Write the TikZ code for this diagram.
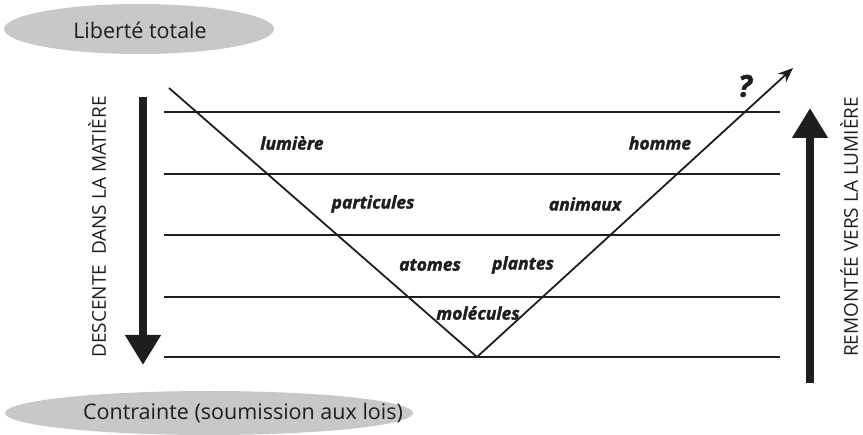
\documentclass[tikz,border=0pt]{standalone}
\usepackage{fontspec}
\setmainfont{Open Sans}
\usetikzlibrary{arrows.meta,shapes.geometric}
\definecolor{ellgray}{RGB}{200,200,200}
\definecolor{ink}{RGB}{30,30,30}
\newcommand{\heavyit}{\bfseries\itshape\addfontfeature{FakeBold=1.8}}
\begin{document}
\begin{tikzpicture}[x=1pt,y=-1pt,
  level/.style={draw=ink,line width=2pt},
  vline/.style={draw=ink,line width=1.8pt},
  bigarrow/.style={draw=ink,line width=8pt,-{Triangle[length=30pt,width=34pt]}},
  lab/.style={font=\fontsize{17.5}{20}\selectfont\heavyit,text=ink,inner sep=0pt},
  sidelab/.style={font=\fontsize{19}{21}\selectfont,text=ink,rotate=90,inner sep=0pt},
  oval/.style={ellipse,fill=ellgray,inner sep=0pt},
  ovaltext/.style={font=\fontsize{21.5}{24}\selectfont,text=ink,inner sep=0pt}]
\useasboundingbox (0,0) rectangle (863,435);
% ovals
\node[oval,minimum width=270pt,minimum height=50pt] (topoval) at (139,29) {};
\node[ovaltext] (toptext) at (140,30) {Liberté totale};
\node[oval,minimum width=408pt,minimum height=44pt] (botoval) at (209,413) {};
\node[ovaltext] (bottext) at (243,413) {Contrainte (soumission aux lois)};
% horizontal levels
\foreach \i/\y in {1/112,2/174,3/235,4/297,5/357}{
  \coordinate (L\i) at (164,\y);
  \coordinate (R\i) at (780,\y);
  \draw[level] (L\i) -- (R\i);
}
% V
\coordinate (vstart) at (169,88);
\coordinate (vbottom) at (477,357);
\coordinate (vend) at (793,68);
\draw[vline] (vstart) -- (vbottom);
\draw[vline,-{Stealth[length=15pt,width=12pt]}] (vbottom) -- (vend);
% labels
\node[lab] (lumiere) at (292,143) {lumière};
\node[lab] (homme) at (660,143) {homme};
\node[lab] (particules) at (373,204) {particules};
\node[lab] (animaux) at (585,204) {animaux};
\node[lab] (atomes) at (430,265) {atomes};
\node[lab] (plantes) at (523,265) {plantes};
\node[lab] (molecules) at (478,313) {molécules};
\node[lab,font=\fontsize{30}{32}\selectfont\heavyit] (q) at (745,86) {?};
% side arrows
\coordinate (dtop) at (143,97);
\coordinate (dbot) at (143,365);
\draw[bigarrow] (dtop) -- (dbot);
\coordinate (ubot) at (810,383);
\coordinate (utop) at (810,108);
\draw[bigarrow] (ubot) -- (utop);
\node[sidelab] (desc) at (97,227) {DESCENTE\ \ DANS LA MATIÈRE};
\node[sidelab] (rem) at (849,227) {REMONTÉE VERS LA LUMIÈRE};
\end{tikzpicture}
\end{document}
